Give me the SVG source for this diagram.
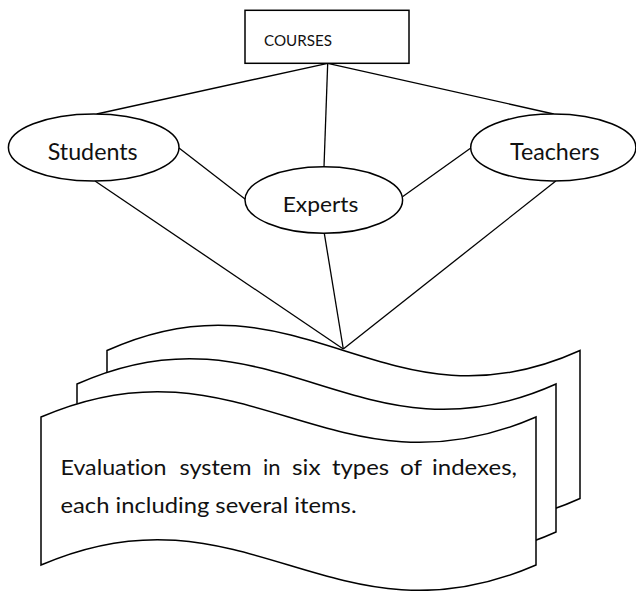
<svg xmlns="http://www.w3.org/2000/svg" width="636" height="591" viewBox="0 0 636 591">
<style>
.shape{fill:#fff;stroke:#000;stroke-width:1.5}
.conn line{stroke:#000;stroke-width:1.3}
.lbl{font-family:Lato,"Open Sans","Liberation Sans",sans-serif;fill:#111;font-variant-ligatures:none;font-feature-settings:"liga" 0,"clig" 0}
</style>
<rect width="636" height="591" fill="#fff"/>
<g id="scroll-back"><path class="shape" d="M107,350.5 C301,262.5 386,438.5 580,350.5 L580,498.5 C386,586.5 301,410.5 107,498.5 Z"/></g>
<g id="scroll-middle"><path class="shape" d="M77,384 C273,296 360,472 556,384 L556,532 C360,620 273,444 77,532 Z"/></g>
<g id="scroll-front">
<path class="shape" d="M41,417 C244,329 333,505 536,417 L536,565 C333,653 244,477 41,565 Z"/>
<g class="lbl" font-size="21">
<text x="60.5" y="475" textLength="106" lengthAdjust="spacingAndGlyphs">Evaluation</text>
<text x="179.5" y="475" textLength="72" lengthAdjust="spacingAndGlyphs">system</text>
<text x="263" y="475" textLength="17.5" lengthAdjust="spacingAndGlyphs">in</text>
<text x="292" y="475" textLength="28.5" lengthAdjust="spacingAndGlyphs">six</text>
<text x="332" y="475" textLength="57" lengthAdjust="spacingAndGlyphs">types</text>
<text x="400" y="475" textLength="22" lengthAdjust="spacingAndGlyphs">of</text>
<text x="432" y="475" textLength="85" lengthAdjust="spacingAndGlyphs">indexes,</text>
<text x="60.5" y="513.3" textLength="296" lengthAdjust="spacingAndGlyphs">each including several items.</text>
</g>
</g>
<g class="conn">
<line x1="327.7" y1="63.3" x2="96.7" y2="114"/>
<line x1="327.7" y1="63.3" x2="324" y2="166.7"/>
<line x1="327.7" y1="63.3" x2="553.7" y2="114"/>
<line x1="179" y1="148" x2="245.3" y2="199.3"/>
<line x1="470.8" y1="148" x2="402.5" y2="196.7"/>
<line x1="95" y1="181" x2="343.3" y2="349"/>
<line x1="324.3" y1="233.3" x2="343.3" y2="349"/>
<line x1="555.8" y1="181" x2="343.3" y2="349"/>
</g>
<g id="courses">
<rect class="shape" x="245" y="10.3" width="164" height="53"/>
<text class="lbl" x="264" y="45.7" font-size="15.5" textLength="68" lengthAdjust="spacingAndGlyphs">COURSES</text>
</g>
<g id="students">
<ellipse class="shape" cx="93.7" cy="147.5" rx="85.3" ry="33.5"/>
<text class="lbl" x="92.7" y="160" font-size="22.5" text-anchor="middle" textLength="90" lengthAdjust="spacingAndGlyphs">Students</text>
</g>
<g id="experts">
<ellipse class="shape" cx="323.8" cy="200" rx="78.8" ry="33.3"/>
<text class="lbl" x="320.5" y="211.7" font-size="22" text-anchor="middle" textLength="75.6" lengthAdjust="spacingAndGlyphs">Experts</text>
</g>
<g id="teachers">
<ellipse class="shape" cx="553.3" cy="147.5" rx="82.6" ry="33.5"/>
<text class="lbl" x="554.8" y="160" font-size="22.5" text-anchor="middle" textLength="89.6" lengthAdjust="spacingAndGlyphs">Teachers</text>
</g>
</svg>
